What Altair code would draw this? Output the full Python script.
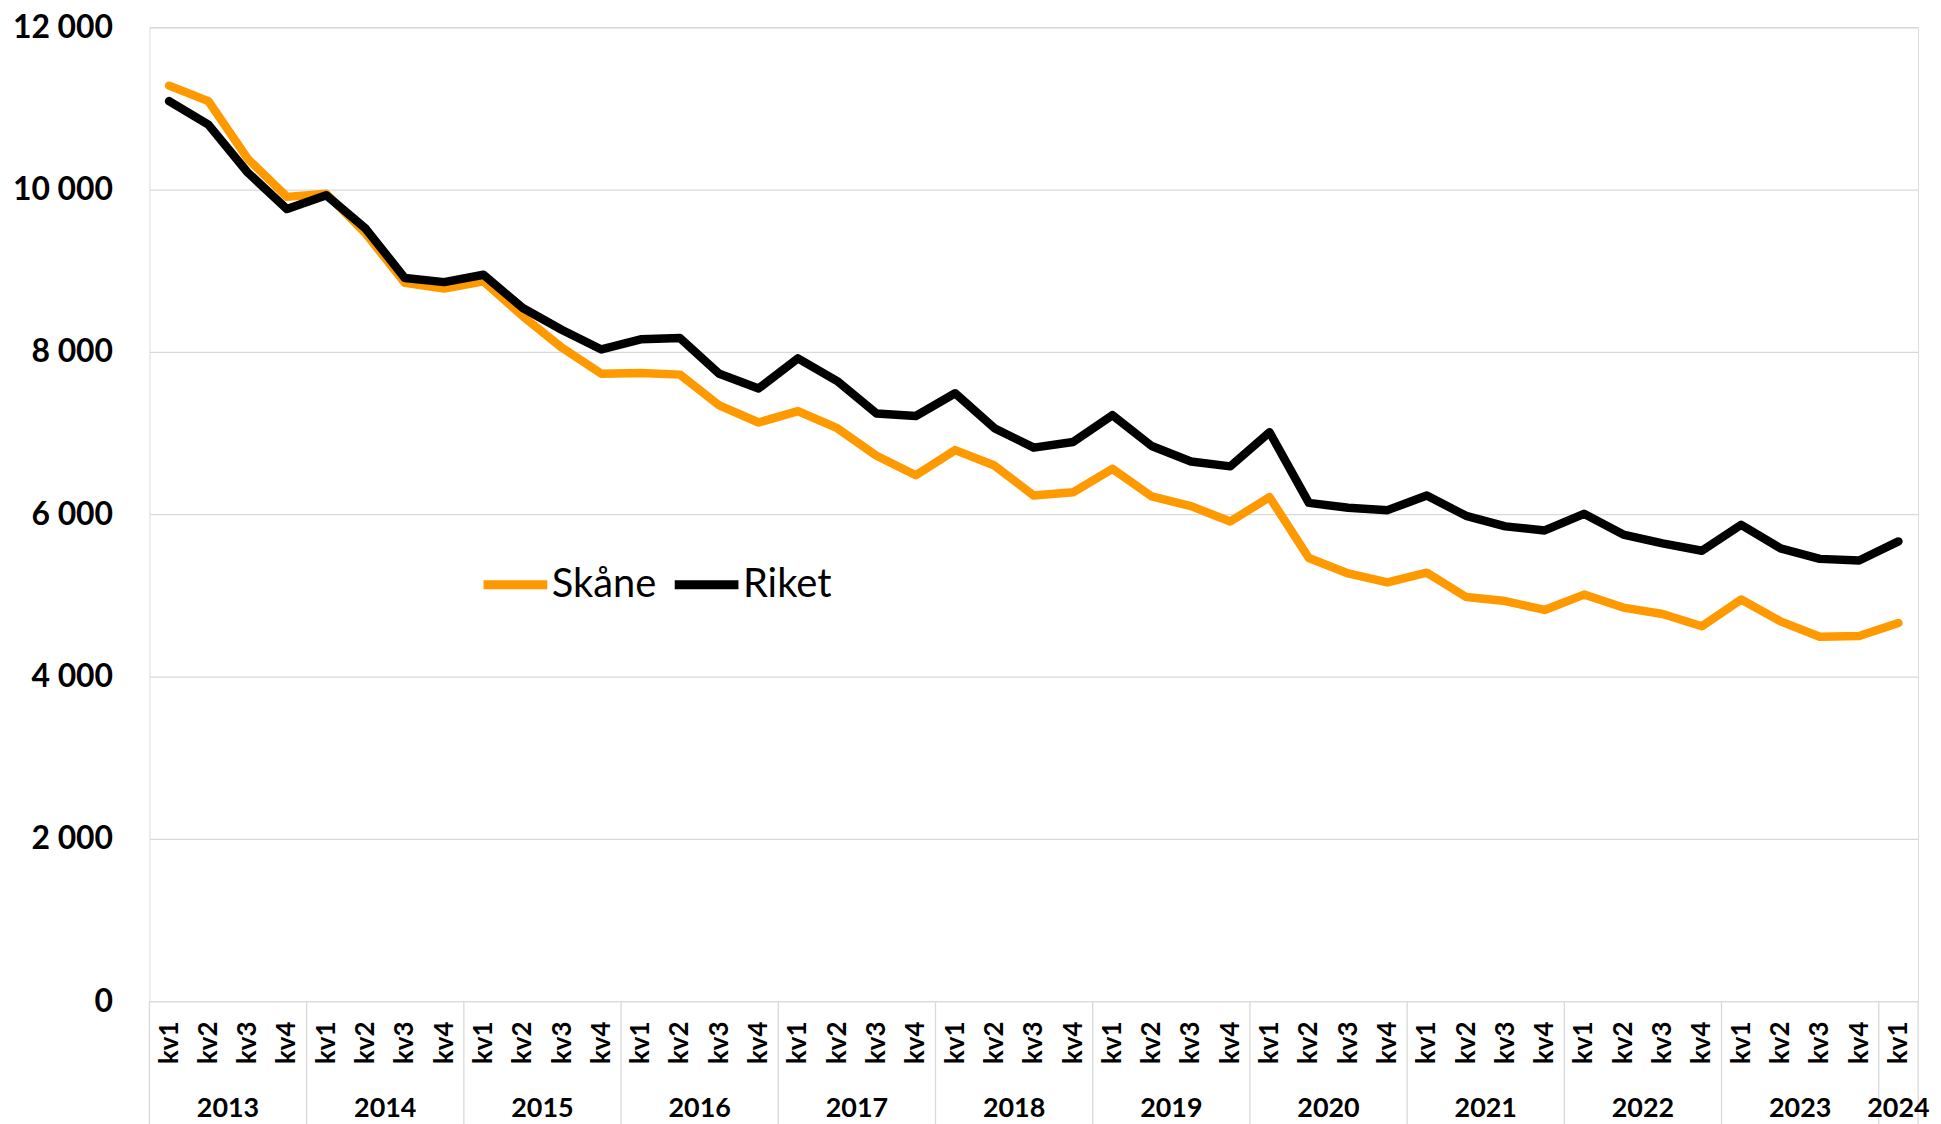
import altair as alt
import pandas as pd

# --- data ---
years = [2013, 2014, 2015, 2016, 2017, 2018, 2019, 2020, 2021, 2022, 2023, 2024]
quarters = ["kv1", "kv2", "kv3", "kv4"]

skane = [11280, 11090, 10380, 9910, 9950, 9460, 8850, 8780, 8870, 8440, 8050, 7730,
         7740, 7720, 7340, 7130, 7270, 7060, 6720, 6480, 6790, 6600, 6230, 6270,
         6560, 6220, 6100, 5910, 6210, 5460, 5270, 5160, 5280, 4980, 4930, 4820,
         5010, 4850, 4770, 4620, 4950, 4680, 4490, 4500, 4660]
riket = [11090, 10800, 10210, 9760, 9930, 9520, 8910, 8860, 8950, 8540, 8270, 8030,
         8155, 8170, 7730, 7550, 7920, 7640, 7240, 7210, 7490, 7060, 6820, 6890,
         7220, 6840, 6650, 6590, 7010, 6140, 6080, 6050, 6230, 5980, 5850, 5800,
         6005, 5750, 5640, 5550, 5870, 5580, 5450, 5430, 5665]
series = ["Skåne", "Riket"]
colors = ["#FF9900", "#000000"]
y_ticks = [0, 2000, 4000, 6000, 8000, 10000, 12000]

# periods
periods = []
for y in years:
    for q in quarters:
        if len(periods) < len(skane):
            periods.append((y, q))
n = len(periods)

rows = []
for i, (yr, q) in enumerate(periods):
    rows.append({"idx": i, "year": yr, "kv": q, "serie": "Skåne", "value": skane[i]})
    rows.append({"idx": i, "year": yr, "kv": q, "serie": "Riket", "value": riket[i]})
df = pd.DataFrame(rows)

# year groups: label centre and boundaries
year_rows = []
bounds = [-0.5]
for yr in years:
    ids = [i for i, (y, _) in enumerate(periods) if y == yr]
    year_rows.append({"year": str(yr), "mid": (ids[0] + ids[-1]) / 2})
    bounds.append(ids[-1] + 0.5)
years_df = pd.DataFrame(year_rows)
bounds_df = pd.DataFrame({"b": bounds})

W, H = 1776, 978
FONT = "Lato"

xscale = alt.Scale(domain=[-0.5, n - 0.5], nice=False, zero=False)
yscale = alt.Scale(domain=[0, 12000], nice=False)

x_axis = alt.Axis(
    values=list(range(n)),
    labelExpr="'kv' + ((datum.value % 4) + 1)",
    labelAngle=270,
    labelFont=FONT, labelFontSize=26, labelFontWeight="bold", labelColor="#000000",
    labelPadding=20, ticks=False, tickSize=0, domain=False, grid=False, title=None,
    labelFlush=False, labelOverlap=False,
)
y_axis = alt.Axis(
    values=y_ticks,
    labelExpr="replace(format(datum.value, ','), ',', ' ')",
    labelFont=FONT, labelFontSize=32, labelFontWeight="bold", labelColor="#000000",
    labelPadding=37, ticks=False, domain=False, grid=True,
    gridColor="#d9d9d9", gridWidth=1.3, title=None,
)

color = alt.Color(
    "serie:N",
    scale=alt.Scale(domain=series, range=colors),
    legend=alt.Legend(
        title=None, orient="none", legendX=331, legendY=523, direction="horizontal",
        symbolType="stroke", symbolSize=4096, symbolStrokeWidth=9,
        labelFont=FONT, labelFontSize=40, labelColor="#000000", labelOffset=0,
        columnPadding=0, padding=0,
    ),
)

base = alt.Chart(df)

line_sk = base.transform_filter(alt.datum.serie == "Skåne").mark_line(
    strokeWidth=8.5, strokeJoin="round", strokeCap="round"
).encode(
    x=alt.X("idx:Q", scale=xscale, axis=x_axis),
    y=alt.Y("value:Q", scale=yscale, axis=y_axis),
    color=color,
)
line_ri = base.transform_filter(alt.datum.serie == "Riket").mark_line(
    strokeWidth=8.5, strokeJoin="round", strokeCap="round"
).encode(
    x=alt.X("idx:Q", scale=xscale),
    y=alt.Y("value:Q", scale=yscale),
    color=color,
)

seps = alt.Chart(bounds_df).mark_rule(color="#d9d9d9", strokeWidth=1.3).encode(
    x=alt.X("b:Q", scale=xscale),
    y=alt.value(H),
    y2=alt.value(H + 125),
)

year_text = alt.Chart(years_df).mark_text(
    font=FONT, fontSize=27, fontWeight="bold", color="#000000", baseline="middle"
).encode(
    x=alt.X("mid:Q", scale=xscale),
    y=alt.value(H + 108),
    text="year:N",
)

chart = alt.layer(seps, line_sk, line_ri, year_text).properties(
    width=W, height=H,
    autosize=alt.AutoSizeParams(type="none"),
    padding={"left": 142, "top": 17, "right": 15, "bottom": 121},
).configure_view(stroke=None).configure(background="#ffffff")

chart.save("out.html", embed_options={"renderer": "svg", "actions": False})
